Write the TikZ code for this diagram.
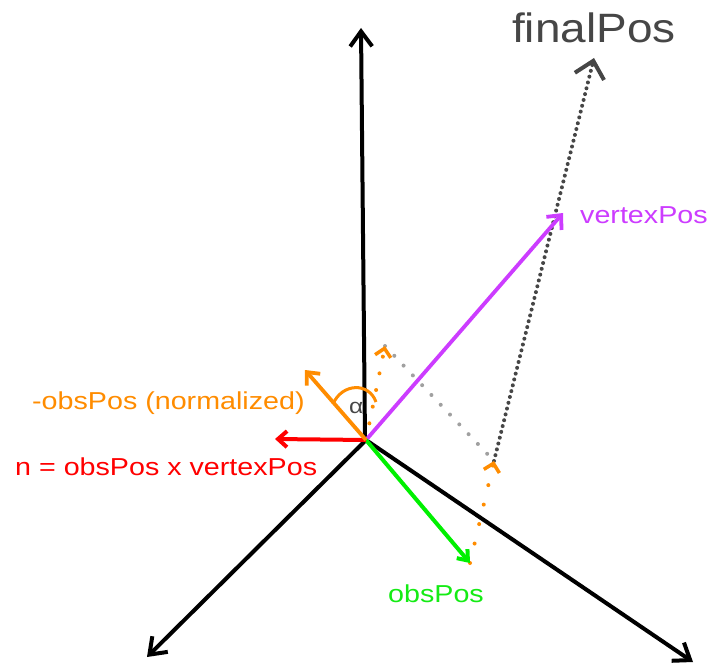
\documentclass[tikz,border=0pt]{standalone}
\usepackage{fontspec}
\usetikzlibrary{arrows.meta}
\newfontfamily\lab[FakeStretch=1.17]{Liberation Sans}
\newfontfamily\labF[FakeStretch=1.12]{Liberation Sans}
\definecolor{cOr}{RGB}{255,140,0}
\definecolor{cRed}{RGB}{255,0,0}
\definecolor{cPur}{RGB}{204,60,255}
\definecolor{cGrn}{RGB}{0,240,0}
\definecolor{cGrnT}{RGB}{20,235,20}
\definecolor{cDk}{RGB}{70,70,70}
\definecolor{cLt}{RGB}{160,160,160}
\begin{document}
\begin{tikzpicture}[x=1pt,y=-1pt,
  axis/.style={line width=4pt,black,-{Straight Barb[length=15pt,width=22pt]}},
  vec/.style={line width=3.8pt},
  dots/.style={line cap=round,dash pattern=on 0pt off #1},
  lbl/.style={anchor=base west,inner sep=0pt,font=\lab\fontsize{24.5}{28}\selectfont}]
\useasboundingbox (0,0) rectangle (712,666);
% points
\coordinate (O) at (366,440);
\coordinate (Ztop) at (361,28);
\coordinate (Zb) at (365,440);
\coordinate (Xl) at (147,657);
\coordinate (Yr) at (693,662);
\coordinate (V) at (563,213);
\coordinate (G) at (470,563);
\coordinate (R) at (275,439);
\coordinate (M) at (305,370);
\coordinate (P) at (385,346);
\coordinate (C) at (494,461);
\coordinate (F) at (594,58);
\coordinate (A1) at (333,404);
\coordinate (A2) at (376,402);
% axes
\draw[axis] (Zb) -- (Ztop);
\draw[axis] (O) -- (Xl);
\draw[axis] (O) -- (Yr);
% dotted construction lines
\draw[cLt,line width=4pt,dots=13.5pt] (P) -- (C);
\draw[cDk,line width=4pt,dots=6pt,-{Straight Barb[length=16pt,width=30pt,line width=4pt]}] (C) -- (F);
\draw[cOr,line width=4pt,dots=17pt,-{Straight Barb[length=8pt,width=16pt,line width=3.5pt]}] (O) -- (P);
\draw[cOr,line width=4pt,dots=20pt,-{Straight Barb[length=8pt,width=16pt,line width=3.5pt]}] (G) -- (C);
% vectors
\draw[cPur,vec,-{Straight Barb[length=11pt,width=20pt]}] (O) -- (V);
\draw[cGrn,vec,line width=4pt,-{Straight Barb[length=9pt,width=14pt]}] (O) -- (G);
\draw[cRed,vec,line width=4pt,-{Straight Barb[length=9pt,width=16pt]}] (O) -- (R);
\draw[cOr,vec,-{Straight Barb[length=10pt,width=18pt]}] (O) -- (M);
% angle arc
\draw[cOr,line width=3pt] (A1) .. controls (342,383) and (369,382) .. (A2);
% labels
\node[lbl,text=cDk,font=\labF\fontsize{41}{44}\selectfont] (lfinal) at (512,43) {finalPos};
\node[lbl,text=cPur] (lvertex) at (580,223) {vertexPos};
\node[lbl,text=cOr] (lobs) at (32,409) {-obsPos (normalized)};
\node[lbl,text=cRed] (ln) at (15,475) {n = obsPos x vertexPos};
\node[lbl,text=cGrnT] (lgreen) at (388,602) {obsPos};
\node[lbl,text=cDk,font=\lab\fontsize{21}{24}\selectfont] (lalpha) at (349,413) {α};
\end{tikzpicture}
\end{document}
